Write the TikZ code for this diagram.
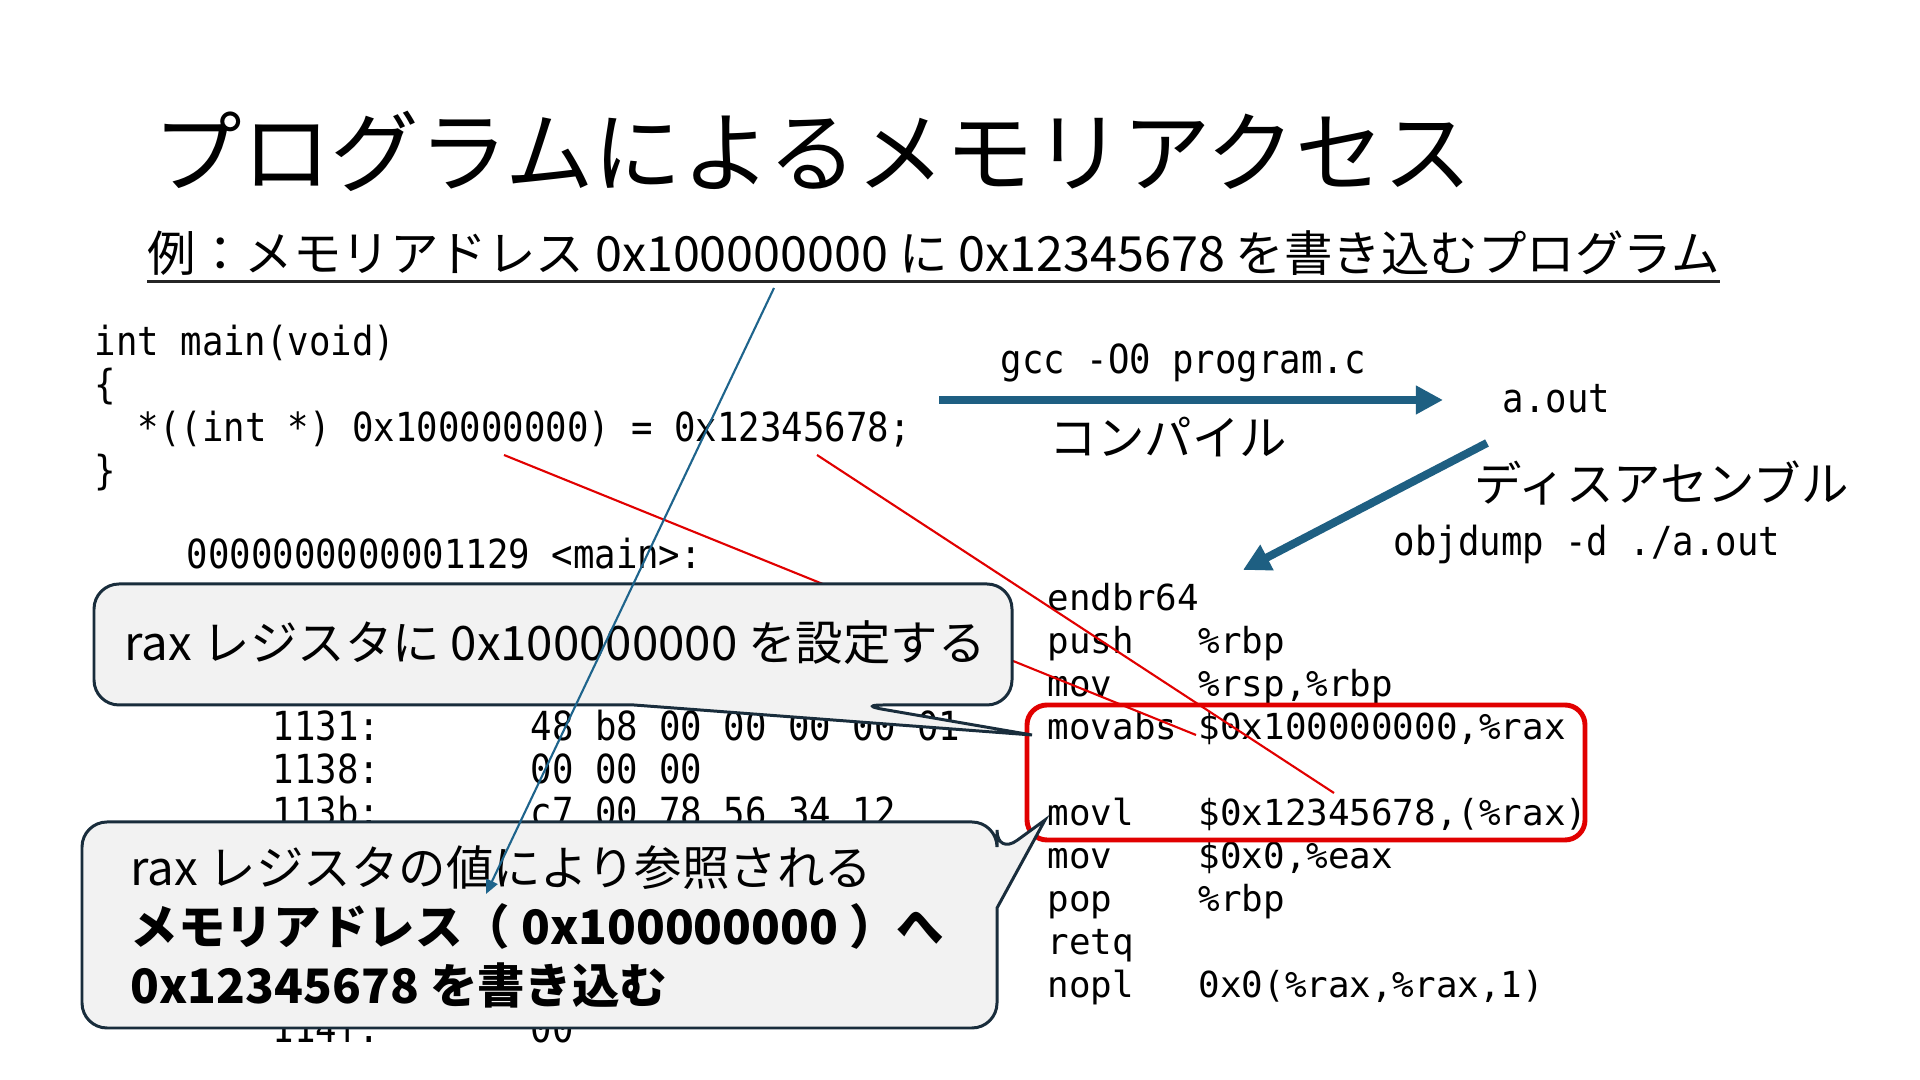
\documentclass[tikz,border=0pt]{standalone}
\usepackage{fontspec}
\setmainfont{Noto Sans CJK JP}
\newfontfamily\codefont[FakeStretch=0.89]{DejaVu Sans Mono}
\newfontfamily\asmfont{DejaVu Sans Mono}
\usetikzlibrary{arrows.meta}
\definecolor{arrowblue}{RGB}{30,95,130}
\definecolor{linkblue}{RGB}{30,100,140}
\definecolor{markred}{RGB}{225,0,0}
\definecolor{boxgray}{RGB}{242,242,242}
\definecolor{boxedge}{RGB}{25,45,60}

\begin{document}
\begin{tikzpicture}[
  jp/.style={font=\fontsize{13.5pt}{16pt}\selectfont, inner sep=0pt, anchor=west},
  code/.style={font=\codefont\fontsize{11.4pt}{13pt}\selectfont, inner sep=0pt, anchor=base west},
  asm/.style={font=\asmfont\fontsize{10.2pt}{12pt}\selectfont, inner sep=0pt, anchor=base west},
  bigarrow/.style={draw=arrowblue, line width=2.3pt, -{Triangle[length=7.7pt, width=7.7pt]}},
  markline/.style={draw=markred, line width=0.6pt},
  link/.style={draw=linkblue, line width=0.6pt, -{Triangle[length=4pt, width=3.5pt]}},
  callout/.style={draw=boxedge, fill=boxgray, line width=0.85pt, rounded corners=0.25cm},
  redbox/.style={draw=markred, line width=1.4pt, rounded corners=0.2cm},
]
\path[use as bounding box, fill=white] (0,0) rectangle (19.2,10.8);

% === Title ===
\node[jp, font=\fontsize{25.2pt}{30pt}\selectfont] (title) at (1.53,9.29) {プログラムによるメモリアクセス};
\node[jp, font=\fontsize{13.8pt}{17pt}\selectfont] (subtitle) at (1.47,8.27)
  {例：メモリアドレス 0x100000000 に 0x12345678 を書き込むプログラム};
\draw[line width=0.8pt, black!85] ([yshift=-0.05cm]subtitle.south west) -- ([yshift=-0.05cm]subtitle.south east);

% === C source ===
\node[code] (sig)    at (0.94,7.24) {int main(void)};
\node[code] (lbrace) at (0.94,6.81) {\{};
\node[code] (stmt)   at (1.37,6.38) {*((int *) 0x100000000) = 0x12345678;};
\node[code] (rbrace) at (0.94,5.95) {\}};

% === Compile / disassemble ===
\node[code] (gcc)     at (10.00,7.06) {gcc -O0 program.c};
\node[code] (aout)    at (15.02,6.67) {a.out};
\node[jp]   (compile) at (10.49,6.43) {コンパイル};
\node[jp]   (disasm)  at (14.74,5.97) {ディスアセンブル};
\node[code] (objdump) at (13.93,5.24) {objdump -d ./a.out};

\coordinate (ccstart) at (9.39,6.80);
\coordinate (dastart) at (14.87,6.37);
\coordinate (daend)   at (12.43,5.10);
\draw[bigarrow, shorten >=0.59cm] (ccstart) -- (ccstart -| aout.west);
\draw[bigarrow] (dastart) -- (daend);

% === objdump listing (left) ===
\node[code] (hdr)   at (1.86,5.11) {0000000000001129 <main>:};
\node[code] (a1131) at (2.72,3.39) {1131:};
\node[code] (h1131) at (5.30,3.39) {48 b8 00 00 00 00 01};
\node[code] (a1138) at (2.72,2.96) {1138:};
\node[code] (h1138) at (5.30,2.96) {00 00 00};
\node[code] (a113b) at (2.72,2.53) {113b:};
\node[code] (h113b) at (5.30,2.53) {c7 00 78 56 34 12};
\node[code] (a114f) at (2.72,0.37) {114f:};
\node[code] (h114f) at (5.30,0.37) {00};

% === objdump listing (right) ===
\node[asm] (endbr)    at (10.47,4.69) {endbr64};
\node[asm] (push)     at (10.47,4.26) {push};
\node[asm] (pushop)   at (11.98,4.26) {\%rbp};
\node[asm] (mova)     at (10.47,3.83) {mov};
\node[asm] (movaop)   at (11.98,3.83) {\%rsp,\%rbp};
\node[asm] (movabs)   at (10.47,3.40) {movabs};
\node[asm] (movabsop) at (11.98,3.40) {\$0x100000000,\%rax};
\node[asm] (movl)     at (10.47,2.54) {movl};
\node[asm] (movlop)   at (11.98,2.54) {\$0x12345678,(\%rax)};
\node[asm] (movb)     at (10.47,2.11) {mov};
\node[asm] (movbop)   at (11.98,2.11) {\$0x0,\%eax};
\node[asm] (pop)      at (10.47,1.68) {pop};
\node[asm] (popop)    at (11.98,1.68) {\%rbp};
\node[asm] (retq)     at (10.47,1.25) {retq};
\node[asm] (nopl)     at (10.47,0.82) {nopl};
\node[asm] (noplop)   at (11.98,0.82) {0x0(\%rax,\%rax,1)};

% === Red marks ===
\coordinate (addrsrc) at (5.04,6.25);
\coordinate (addrdst) at (11.96,3.45);
\coordinate (valsrc)  at (8.17,6.25);
\coordinate (valdst)  at (13.34,2.87);
\draw[markline] (addrsrc) -- (addrdst);
\draw[markline] (valsrc) -- (valdst);
\draw[redbox] (10.27,3.75) rectangle (15.85,2.40);

% === Callout: set rax ===
\draw[callout] (5.00,4.96) -- (10.12,4.96) -- (10.12,3.75) -- (8.58,3.75)
  [sharp corners] -- (10.32,3.45) -- (6.34,3.75) [rounded corners=0.25cm] -- (0.94,3.75) -- (0.94,4.96) -- cycle;
\node[jp] (setrax) at (1.24,4.37) {rax レジスタに 0x100000000 を設定する};

% === Callout: memory write ===
\draw[callout] (5.00,2.58) -- (9.97,2.58) -- (9.97,2.25)
  [sharp corners] -- (10.45,2.60) -- (9.97,1.72) [rounded corners=0.25cm] -- (9.97,0.52) -- (0.82,0.52) -- (0.82,2.58) -- cycle;
\node[jp, align=left, font=\fontsize{13.5pt}{16.8pt}\selectfont] (refmem) at (1.30,1.53)
  {rax レジスタの値により参照される\\
   \textbf{メモリアドレス（ 0x100000000 ）へ}\\
   \textbf{0x12345678 を書き込む}};

% === Link from subtitle ===
\coordinate (linkstart) at (7.74,7.92);
\coordinate (linkend)   at (4.86,1.86);
\draw[link] (linkstart) -- (linkend);

\end{tikzpicture}
\end{document}
